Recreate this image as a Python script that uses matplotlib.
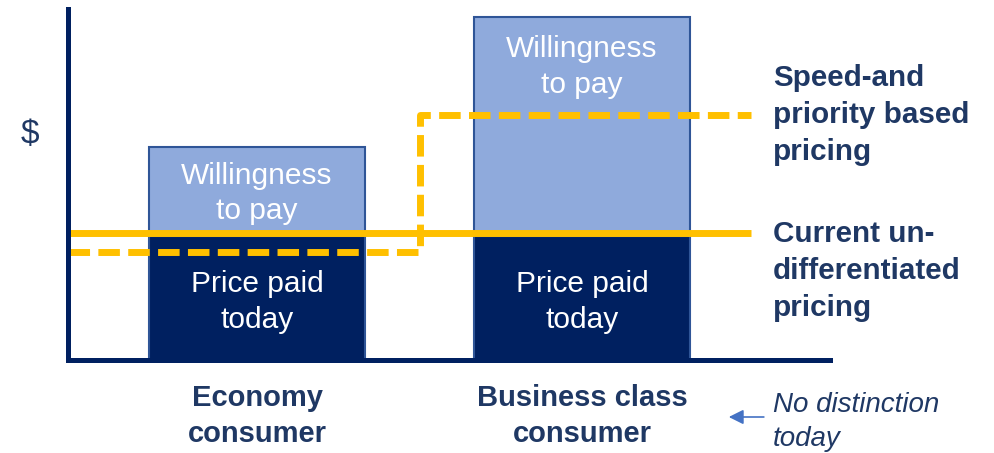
import matplotlib.pyplot as plt

plt.rcParams["font.family"] = ["Liberation Sans", "DejaVu Sans"]

# data (arbitrary $ units)
CATEGORIES = ["Economy\nconsumer", "Business class\nconsumer"]
PRICE_PAID = [124, 124]
WILLINGNESS = [213, 343]
CURRENT_PRICE = 127
TIERED_PRICE = [108, 245]

BAR_LABEL_TOP = "Willingness\nto pay"
BAR_LABEL_BOTTOM = "Price paid\ntoday"
TIERED_LABEL = "Speed-and\npriority based\npricing"
CURRENT_LABEL = "Current un-\ndifferentiated\npricing"
NOTE_LABEL = "No distinction\ntoday"

NAVY = "#002060"
LIGHT = "#8FAADC"
EDGE = "#2F5597"
YELLOW = "#FFC000"
TEXT = "#1F3864"
ARROW = "#4472C4"

W, H = 994, 453
fig = plt.figure(figsize=(W / 100, H / 100), dpi=100)
ax = fig.add_axes([68 / W, (H - 360) / H, (830 - 68) / W, (360 - 9) / H])

x = list(range(len(CATEGORIES)))
xmin, xmax = -0.582, 1.763
line_end = 1.52
width = 0.665

ax.bar(x, PRICE_PAID, width, color=NAVY, edgecolor=EDGE, linewidth=1.5, zorder=2)
ax.bar(x, [w - p for w, p in zip(WILLINGNESS, PRICE_PAID)], width, bottom=PRICE_PAID,
       color=LIGHT, edgecolor=EDGE, linewidth=1.5, zorder=2)

# current flat price
ax.plot([xmin, line_end], [CURRENT_PRICE, CURRENT_PRICE], color=YELLOW, lw=5,
        solid_capstyle="butt", zorder=4)
# tiered price (step between the two segments)
ax.step([xmin, 0, 1, line_end], [TIERED_PRICE[0], TIERED_PRICE[0], TIERED_PRICE[1], TIERED_PRICE[1]],
        where="mid", color=YELLOW, lw=5, dashes=(3.1, 1.2), dash_capstyle="butt", zorder=4)

for i in x:
    ax.text(i, (PRICE_PAID[i] + WILLINGNESS[i]) / 2 - 2 if i == 0 else WILLINGNESS[i] - 50,
            BAR_LABEL_TOP, ha="center", va="center", color="white", fontsize=21.5,
            linespacing=1.36, zorder=5)
    ax.text(i, PRICE_PAID[i] / 2 - 4, BAR_LABEL_BOTTOM, ha="center", va="center",
            color="white", fontsize=21.5, linespacing=1.36, zorder=5)
    ax.text(i, -56, CATEGORIES[i], ha="center", va="center", color=TEXT,
            fontsize=21, fontweight="bold", linespacing=1.4, clip_on=False)

ax.text(1.588, 245, TIERED_LABEL, ha="left", va="center", color=TEXT, fontsize=21.3,
        fontweight="bold", linespacing=1.4)
ax.text(1.588, 89, CURRENT_LABEL, ha="left", va="center", color=TEXT, fontsize=21.3,
        fontweight="bold", linespacing=1.4)
ax.text(1.588, -62, NOTE_LABEL, ha="left", va="center", color=TEXT, fontsize=20,
        style="italic", linespacing=1.4, clip_on=False)
ax.annotate("", xy=(1.443, -57), xytext=(1.568, -57), annotation_clip=False,
            arrowprops=dict(arrowstyle="-|>", color=ARROW, lw=1.2, mutation_scale=22))

ax.text(-0.698, 225, "$", ha="center", va="center", color=TEXT, fontsize=24, clip_on=False)

ax.set_xlim(xmin, xmax)
ax.set_ylim(0, 351)
ax.set_xticks([])
ax.set_yticks([])
for side in ["top", "right"]:
    ax.spines[side].set_visible(False)
for side in ["left", "bottom"]:
    ax.spines[side].set_color(NAVY)
    ax.spines[side].set_linewidth(3.6)
    ax.spines[side].set_zorder(6)

fig.savefig("out.png", dpi=100)
